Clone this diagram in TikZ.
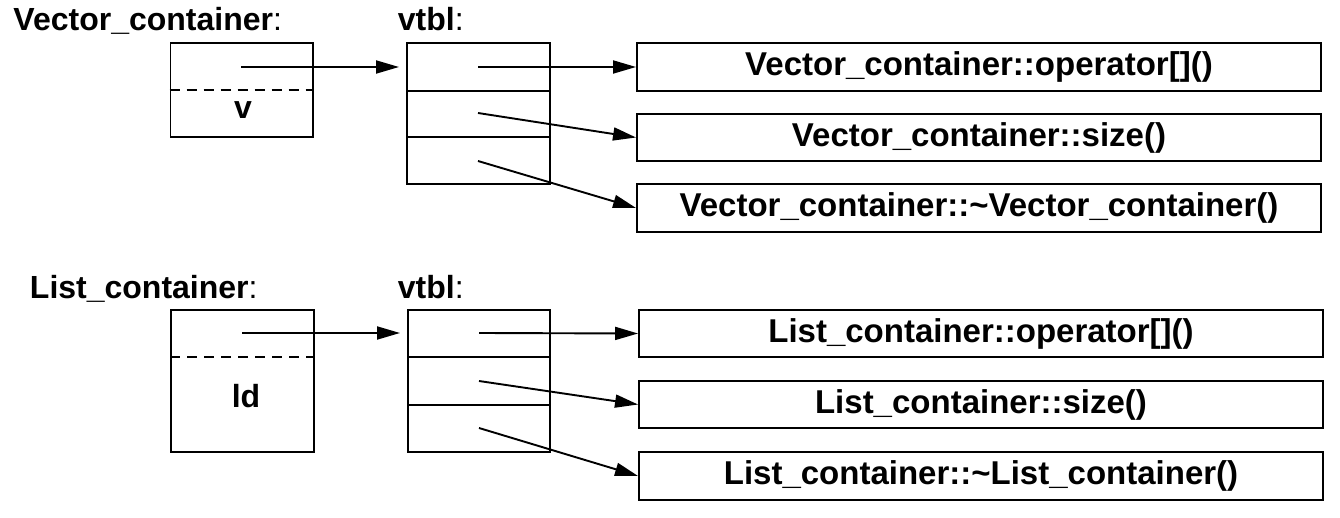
\documentclass[tikz,border=0pt]{standalone}
\usepackage{fontspec}
\setmainfont{Liberation Sans}
\usetikzlibrary{arrows.meta}
\begin{document}
\begin{tikzpicture}[x=1pt,y=-1pt,
  line width=1.9pt,
  txt/.style={font=\fontsize{32}{38}\selectfont\bfseries},
  ftxt/.style={font=\fontsize{33}{39}\selectfont\bfseries},
  lbl/.style={txt,anchor=base west,inner sep=0pt},
  boxr/.style={draw,rectangle,inner sep=0pt},
  fbox/.style={boxr,minimum width=684pt,minimum height=47.5pt,ftxt},
  ptr/.style={-{Triangle[length=23pt,width=13pt]}},
  dsh/.style={dash pattern=on 10pt off 7pt}
]
\useasboundingbox (0,0) rectangle (1340,518);

% ---------- Vector_container ----------
\node[lbl] (labV) at (12.5,31) {Vector\_container\mdseries:};
\node[lbl] (vtV) at (397,31) {vtbl\mdseries:};
\node[boxr,minimum width=142.5pt,minimum height=94pt] (objV) at (241.75,90) {};
\draw[dsh] (objV.west) -- (objV.east);
\node[txt,inner sep=0pt] (vV) at (243,110) {v};
\node[boxr,minimum width=143pt,minimum height=141pt] (tabV) at (478.5,113.5) {};
\draw (tabV.west |- 0,90.7) -- (tabV.east |- 0,90.7);
\draw (tabV.west |- 0,137) -- (tabV.east |- 0,137);

\node[fbox] (fV1) at (979,67) {Vector\_container::operator[]()};
\node[fbox] (fV2) at (979,137.5) {Vector\_container::size()};
\node[fbox] (fV3) at (979,208) {Vector\_container::\textasciitilde Vector\_container()};

\coordinate (sV0) at (241,67);
\coordinate (eV0) at (399,67);
\coordinate (sV1) at (478,67);
\coordinate (sV2) at (478,113);
\coordinate (sV3) at (478,161);
\draw[ptr] (sV0) -- (eV0);
\draw[ptr] (sV1) -- (fV1.west);
\draw[ptr] (sV2) -- (fV2.west);
\draw[ptr] (sV3) -- (fV3.west);

% ---------- List_container ----------
\node[lbl] (labL) at (29,299) {List\_container\mdseries:};
\node[lbl] (vtL) at (397,299) {vtbl\mdseries:};
\node[boxr,minimum width=143pt,minimum height=142pt] (objL) at (242.5,381) {};
\draw[dsh] (objL.west |- 0,357) -- (objL.east |- 0,357);
\node[txt,inner sep=0pt] (vL) at (246,396) {ld};
\node[boxr,minimum width=142pt,minimum height=142pt] (tabL) at (479,381) {};
\draw (tabL.west |- 0,357) -- (tabL.east |- 0,357);
\draw (tabL.west |- 0,405) -- (tabL.east |- 0,405);

\node[fbox] (fL1) at (981,333.5) {List\_container::operator[]()};
\node[fbox] (fL2) at (981,404.5) {List\_container::size()};
\node[fbox] (fL3) at (981,476) {List\_container::\textasciitilde List\_container()};

\coordinate (sL0) at (242,333);
\coordinate (eL0) at (400,333);
\coordinate (sL1) at (479,333);
\coordinate (sL2) at (479,381);
\coordinate (sL3) at (479,428);
\draw[ptr] (sL0) -- (eL0);
\draw[ptr] (sL1) -- (fL1.west);
\draw[ptr] (sL2) -- (fL2.west);
\draw[ptr] (sL3) -- (fL3.west);
\end{tikzpicture}
\end{document}
